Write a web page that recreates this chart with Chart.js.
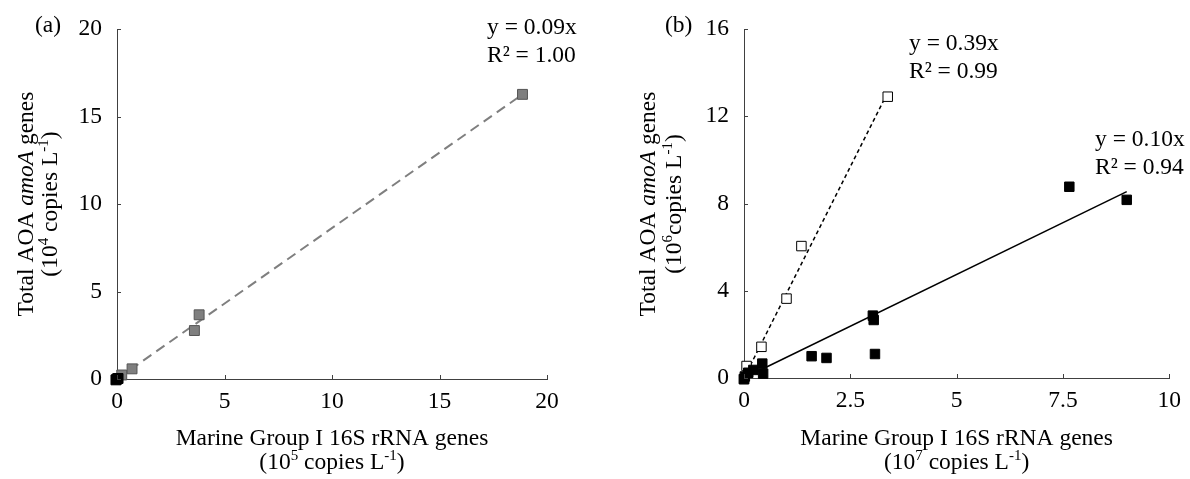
<!DOCTYPE html>
<html>
<head>
<meta charset="utf-8">
<script src="https://cdn.jsdelivr.net/npm/chart.js@4.4.1/dist/chart.umd.min.js"></script>
<style>
  body { margin: 0; background: #fff; width: 1190px; height: 479px; overflow: hidden; position: relative; }
  canvas { position: absolute; top: 0; }
  #chartA { left: 0; }
  #chartB { left: 595px; }
</style>
</head>
<body>
<canvas id="chartA" width="595" height="479"></canvas>
<canvas id="chartB" width="595" height="479"></canvas>
<script>
// (a) Marine Group I 16S (10^5) vs total AOA amoA (10^4)
const aGreyX = [18.86, 3.82, 3.60, 0.70, 0.22];
const aGreyY = [16.27, 3.67, 2.77, 0.58, 0.23];
const aBlackX = [0.00, 0.05, -0.05];
const aBlackY = [0.00, 0.03, -0.05];
const aFitX = [0, 18.86];
const aFitY = [0, 16.27];
const aTicksX = [0, 5, 10, 15, 20];
const aTicksY = [0, 5, 10, 15, 20];

// (b) Marine Group I 16S (10^7) vs total AOA amoA (10^6)
const bOpenX = [3.38, 1.35, 1.00, 0.41, 0.06, 0.00];
const bOpenY = [12.90, 6.05, 3.64, 1.43, 0.55, -0.05];
const bFillX = [9.00, 7.65, 3.03, 3.05, 3.08, 1.59, 1.94, 0.43, 0.45, 0.22, 0.10, 0.02, 0.00];
const bFillY = [8.17, 8.77, 2.86, 2.66, 1.10, 1.00, 0.92, 0.66, 0.20, 0.37, 0.24, 0.07, -0.05];
const bOpenFitX = [0, 3.38];
const bOpenFitY = [0, 13.10];
const bFillFitX = [0, 9.00];
const bFillFitY = [0, 8.55];
const bTicksX = [0, 2.5, 5, 7.5, 10];
const bTicksY = [0, 4, 8, 12, 16];

const FONT = 'Liberation Serif';
const FS = 23.5;
const AXIS = '#404040';

function pts(xs, ys) {
  return xs.map((x, i) => ({ x: x, y: ys[i] }));
}

// draws a row of text pieces (italic / superscript) centred or left aligned
function drawRuns(ctx, runs, x, y, align) {
  const fontOf = r => (r.it ? 'italic ' : '') + (r.sup ? 15 : FS) + 'px "' + FONT + '"';
  let w = 0;
  runs.forEach(r => { ctx.font = fontOf(r); w += ctx.measureText(r.t).width; });
  let cx = align === 'center' ? x - w / 2 : x;
  ctx.textAlign = 'left';
  ctx.textBaseline = 'alphabetic';
  runs.forEach(r => {
    ctx.font = fontOf(r);
    ctx.fillText(r.t, cx, r.sup ? y - 9 : y);
    cx += ctx.measureText(r.t).width;
  });
}

function textPlugin(t) {
  return {
    id: 'texts',
    afterDraw(chart) {
      const ctx = chart.ctx;
      const ca = chart.chartArea;
      const xs = chart.scales.x, ys = chart.scales.y;
      ctx.save();
      ctx.strokeStyle = AXIS;
      ctx.lineWidth = 1;
      // short tick marks pointing into the plot
      xs.ticks.forEach(tk => {
        const px = Math.round(xs.getPixelForValue(tk.value)) + 0.5;
        ctx.beginPath(); ctx.moveTo(px, ca.bottom); ctx.lineTo(px, ca.bottom - 4); ctx.stroke();
      });
      ys.ticks.forEach(tk => {
        const py = Math.round(ys.getPixelForValue(tk.value)) + 0.5;
        ctx.beginPath(); ctx.moveTo(ca.left, py); ctx.lineTo(ca.left + 4, py); ctx.stroke();
      });
      ctx.fillStyle = '#000';
      drawRuns(ctx, [{ t: t.panel }], t.panelX, 32, 'left');
      t.eqs.forEach(e => {
        drawRuns(ctx, [{ t: e.a }], e.x, e.y, 'left');
        drawRuns(ctx, [{ t: e.b }], e.x, e.y + 28, 'left');
      });
      const mid = (ca.left + ca.right) / 2;
      drawRuns(ctx, [{ t: 'Marine Group I 16S rRNA genes' }], mid, 445, 'center');
      drawRuns(ctx, [{ t: '(10' }, { t: t.xExp, sup: true }, { t: ' copies L' }, { t: '-1', sup: true }, { t: ')' }], mid, 469, 'center');
      const midY = 204;
      ctx.save();
      ctx.translate(t.yt1, midY);
      ctx.rotate(-Math.PI / 2);
      drawRuns(ctx, [{ t: 'Total AOA ' }, { t: 'amoA', it: true }, { t: ' genes' }], 0, 0, 'center');
      ctx.restore();
      ctx.save();
      ctx.translate(t.yt2, midY);
      ctx.rotate(-Math.PI / 2);
      drawRuns(ctx, [{ t: '(10' }, { t: t.yExp, sup: true }, { t: t.yGap + 'copies L' }, { t: '-1', sup: true }, { t: ')' }], 0, 0, 'center');
      ctx.restore();
      ctx.restore();
    }
  };
}

function axisOpts(min, max, ticks, isX) {
  return {
    type: 'linear',
    min: min,
    max: max,
    afterBuildTicks(s) { s.ticks = ticks.map(v => ({ value: v })); },
    ticks: {
      color: '#000',
      font: { family: FONT, size: FS },
      padding: isX ? 9 : 15,
      callback: v => String(v)
    },
    grid: { display: true, drawOnChartArea: false, drawTicks: false, color: AXIS },
    border: { display: true, color: AXIS, width: 1 },
    afterFit(s) { if (isX) s.height = 100; else s.width = 70; }
  };
}

function baseOptions(padLeft, padRight, padBottom) {
  return {
    responsive: false,
    animation: false,
    layout: { padding: { left: padLeft, right: padRight, top: 24, bottom: padBottom } },
    plugins: { legend: { display: false }, tooltip: { enabled: false } }
  };
}

// panel (a)
const optsA = baseOptions(47, 48, 0);
optsA.scales = { x: axisOpts(0, 20, aTicksX, true), y: axisOpts(0, 20, aTicksY, false) };
new Chart(document.getElementById('chartA'), {
  type: 'scatter',
  data: {
    datasets: [
      { data: pts(aFitX, aFitY), showLine: true, borderColor: '#7f7f7f', borderWidth: 2,
        borderDash: [10, 6], pointRadius: 0, order: 3, clip: false },
      { data: pts(aGreyX, aGreyY), pointStyle: 'rect', pointRadius: 7,
        backgroundColor: '#7f7f7f', borderColor: '#555555', borderWidth: 1, order: 2, clip: false },
      { data: pts(aBlackX, aBlackY), pointStyle: 'rect', pointRadius: 7,
        backgroundColor: '#000', borderColor: '#000', borderWidth: 1, order: 1, clip: false }
    ]
  },
  options: optsA,
  plugins: [textPlugin({
    panel: '(a)', panelX: 35, xExp: '5', yExp: '4', yGap: ' ', yt1: 33, yt2: 57,
    eqs: [{ a: 'y = 0.09x', b: 'R² = 1.00', x: 487, y: 34 }]
  })]
});

// panel (b)
const optsB = baseOptions(79, 19, 1);
optsB.scales = { x: axisOpts(0, 10, bTicksX, true), y: axisOpts(0, 16, bTicksY, false) };
new Chart(document.getElementById('chartB'), {
  type: 'scatter',
  data: {
    datasets: [
      { data: pts(bOpenFitX, bOpenFitY), showLine: true, borderColor: '#000', borderWidth: 1.5,
        borderDash: [4, 3], pointRadius: 0, order: 4, clip: false },
      { data: pts(bFillFitX, bFillFitY), showLine: true, borderColor: '#000', borderWidth: 1.5,
        pointRadius: 0, order: 3, clip: false },
      { data: pts(bOpenX, bOpenY), pointStyle: 'rect', pointRadius: 6.7,
        backgroundColor: '#fff', borderColor: '#000', borderWidth: 1, order: 2, clip: false },
      { data: pts(bFillX, bFillY), pointStyle: 'rect', pointRadius: 6.7,
        backgroundColor: '#000', borderColor: '#000', borderWidth: 1, order: 1, clip: false }
    ]
  },
  options: optsB,
  plugins: [textPlugin({
    panel: '(b)', panelX: 70, xExp: '7', yExp: '6', yGap: '', yt1: 60, yt2: 86,
    eqs: [{ a: 'y = 0.39x', b: 'R² = 0.99', x: 314, y: 50 },
          { a: 'y = 0.10x', b: 'R² = 0.94', x: 500, y: 146 }]
  })]
});
</script>
</body>
</html>
